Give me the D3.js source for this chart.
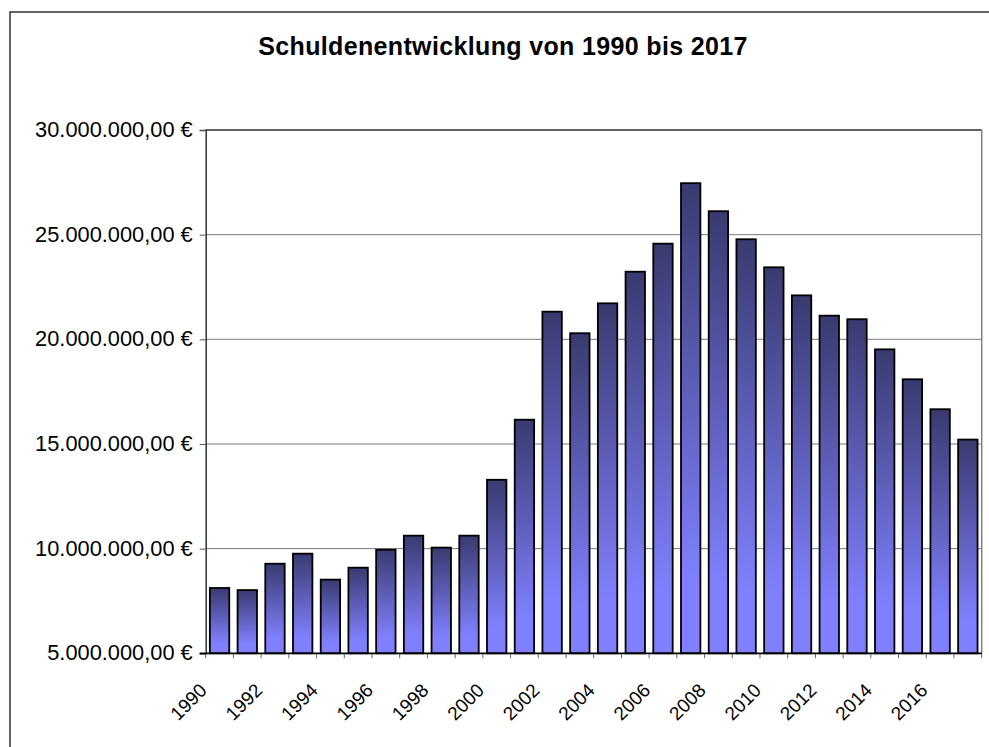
<!DOCTYPE html>
<html>
<head>
<meta charset="utf-8">
<script src="https://cdn.jsdelivr.net/npm/d3@7"></script>
<style>
  html, body { margin: 0; padding: 0; background: #fff; }
  svg { display: block; font-family: "Liberation Sans", Arial, sans-serif; }
</style>
</head>
<body>
<svg id="chart" width="989" height="747"></svg>
<script>
const title = "Schuldenentwicklung von 1990 bis 2017";
const years = ["1990","1991","1992","1993","1994","1995","1996","1997","1998","1999",
               "2000","2001","2002","2003","2004","2005","2006","2007","2008","2009",
               "2010","2011","2012","2013","2014","2015","2016","2017"];
const debt = [8120000, 8020000, 9280000, 9760000, 8520000, 9090000, 9950000, 10620000, 10050000, 10620000,
              13290000, 16160000, 21320000, 20290000, 21720000, 23230000, 24570000, 27460000, 26120000, 24780000,
              23440000, 22100000, 21130000, 20960000, 19520000, 18090000, 16660000, 15210000];
const xTickLabels = ["1990","1992","1994","1996","1998","2000","2002","2004","2006","2008","2010","2012","2014","2016"];
const yTicks = [5000000, 10000000, 15000000, 20000000, 25000000, 30000000];

const svg = d3.select("#chart");
const plot = { left: 205.7, right: 981.7, top: 130, bottom: 653.3 };

const locale = d3.formatLocale({ decimal: ",", thousands: ".", grouping: [3], currency: ["", " €"] });
const fmt = locale.format("$,.2f");

// outer chart border
svg.append("rect").attr("x", 10).attr("y", 12).attr("width", 1100).attr("height", 900)
  .attr("fill", "#fff").attr("stroke", "#333").attr("stroke-width", 1.5);

// title
svg.append("text").attr("x", 503).attr("y", 54.5).attr("text-anchor", "middle")
  .attr("font-size", 25).attr("font-weight", "bold").attr("letter-spacing", 0.35)
  .attr("fill", "#000").text(title);

const x = d3.scaleBand().domain(years).range([plot.left, plot.right]).paddingInner(0.3).paddingOuter(0.15);
const y = d3.scaleLinear().domain([5000000, 30000000]).range([plot.bottom, plot.top]);

// gridlines
svg.append("g").selectAll("line").data(yTicks.slice(1)).join("line")
  .attr("x1", plot.left).attr("x2", plot.right)
  .attr("y1", d => y(d)).attr("y2", d => y(d))
  .attr("stroke", "#7a7a7a").attr("stroke-width", 1);

// plot border top/right
svg.append("line").attr("x1", plot.left).attr("x2", plot.right).attr("y1", plot.top).attr("y2", plot.top)
  .attr("stroke", "#444").attr("stroke-width", 1.5);
svg.append("line").attr("x1", plot.right).attr("x2", plot.right).attr("y1", plot.top).attr("y2", plot.bottom)
  .attr("stroke", "#808080").attr("stroke-width", 1.5);

// gradient
const defs = svg.append("defs");
const grad = defs.append("linearGradient").attr("id", "barGrad")
  .attr("x1", 0).attr("y1", 0).attr("x2", 0).attr("y2", 1);
grad.append("stop").attr("offset", "0%").attr("stop-color", "#3a3a70");
grad.append("stop").attr("offset", "85%").attr("stop-color", "#8080ff");
grad.append("stop").attr("offset", "100%").attr("stop-color", "#8080ff");

// bars
svg.append("g").selectAll("rect").data(years).join("rect")
  .attr("x", d => x(d))
  .attr("width", x.bandwidth())
  .attr("y", (d, i) => y(debt[i]))
  .attr("height", (d, i) => y(5000000) - y(debt[i]))
  .attr("fill", "url(#barGrad)")
  .attr("stroke", "#000").attr("stroke-width", 1.8);

// y axis
const yAxis = d3.axisLeft(y).tickValues(yTicks).tickSize(6).tickPadding(7).tickFormat(fmt);
const gy = svg.append("g").attr("transform", `translate(${plot.left},0)`).call(yAxis);
gy.select(".domain").attr("stroke", "#333").attr("stroke-width", 1.5);
gy.selectAll(".tick line").attr("stroke", "#555");
gy.selectAll(".tick text").attr("font-size", 21.8).attr("fill", "#000")
  .attr("font-family", "'Liberation Sans', Arial, sans-serif").attr("dy", "0.3em");

// x axis with ticks at category boundaries
const step = x.step();
const boundaries = d3.range(years.length + 1).map(i => plot.left + i * step);
svg.append("g").selectAll("line").data(boundaries).join("line")
  .attr("x1", d => d).attr("x2", d => d).attr("y1", plot.bottom).attr("y2", plot.bottom + 5)
  .attr("stroke", "#666").attr("stroke-width", 1);
svg.append("line").attr("x1", plot.left - 6).attr("x2", plot.right).attr("y1", plot.bottom).attr("y2", plot.bottom)
  .attr("stroke", "#000").attr("stroke-width", 1.8);

// x labels
svg.append("g").selectAll("text").data(xTickLabels).join("text")
  .attr("transform", d => `translate(${x(d) + x.bandwidth() / 2 - 11.5},691.5) rotate(-45)`)
  .attr("text-anchor", "end").attr("font-size", 19).attr("fill", "#000")
  .text(d => d);
</script>
</body>
</html>
